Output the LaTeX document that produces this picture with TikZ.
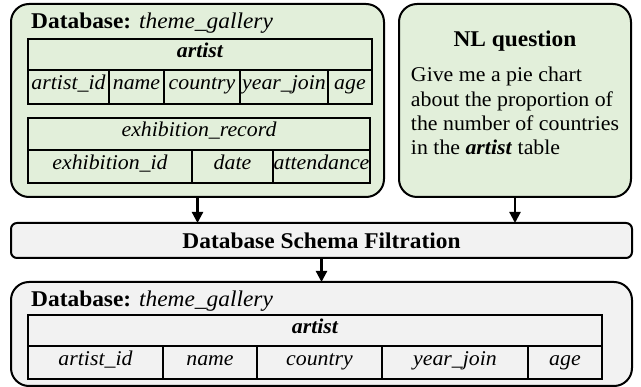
\documentclass[tikz,border=0pt]{standalone}
\usepackage{fontspec}
\setmainfont{Liberation Serif}[FakeStretch=1.04]
\usepackage{tikz}
\usetikzlibrary{positioning,arrows.meta}
\definecolor{boxgreen}{HTML}{E2EFDA}
\definecolor{boxgray}{HTML}{F2F2F2}

\begin{document}
\begin{tikzpicture}[x=1pt,y=-1pt,
  dbbox/.style={draw, line width=2pt, rounded corners=18pt, anchor=north west, inner sep=0pt, outer sep=0pt},
  cell/.style={draw, line width=2.8pt, anchor=north west, inner sep=0pt, outer sep=0pt, text height=0.74em, text depth=0.16em, font=\fontsize{21}{24}\selectfont\itshape},
  head/.style={cell, font=\fontsize{21}{24}\selectfont\bfseries\itshape},
  title/.style={anchor=base west, inner sep=0pt, font=\fontsize{22.5}{26}\selectfont},
  arr/.style={line width=2.2pt, -{Triangle[length=11pt,width=11pt]}}]
\useasboundingbox (0,0) rectangle (641,387);
\node[dbbox, fill=boxgreen, minimum width=373pt, minimum height=193pt] (dbA) at (11,4) {};
\node[dbbox, fill=boxgreen, minimum width=232pt, minimum height=193pt] (nlq) at (399,4) {};
\node[dbbox, fill=boxgray, rounded corners=6pt, minimum width=621pt, minimum height=35pt] (filt) at (11,223) {};
\node[dbbox, fill=boxgray, minimum width=621pt, minimum height=104pt] (dbB) at (11,282) {};

\node[title] (dbAname) at (31,29) {\textbf{Database:} \textit{theme\_gallery}};
\node[head, minimum width=344pt, minimum height=31pt] (artA) at (28,39) {artist};
\node[cell, minimum width=81pt, minimum height=34pt] (artAid) at (28,70) {artist\_id};
\node[cell, minimum width=55pt, minimum height=34pt] (artAname) at (109,70) {name};
\node[cell, minimum width=76pt, minimum height=34pt] (artAcountry) at (164,70) {country};
\node[cell, minimum width=88pt, minimum height=34pt] (artAyear) at (240,70) {year\_join};
\node[cell, minimum width=44pt, minimum height=34pt] (artAage) at (328,70) {age};
\node[cell, minimum width=342pt, minimum height=32pt] (exh) at (28,118) {exhibition\_record};
\node[cell, minimum width=164pt, minimum height=33pt] (exhid) at (28,150) {exhibition\_id};
\node[cell, minimum width=81pt, minimum height=33pt] (exhdate) at (192,150) {date};
\node[cell, minimum width=97pt, minimum height=33pt] (exhatt) at (273,150) {attendance};

\node[anchor=base, inner sep=0pt, font=\fontsize{22.5}{26}\selectfont\bfseries] (nlname) at (515,47) {NL question};
\node[anchor=north, align=left, inner sep=0pt, font=\fontsize{21}{24.3}\selectfont] (nltext) at (515,67) {Give me a pie chart\\about the proportion of\\the number of countries\\in the \textbf{\textit{artist}} table};

\node[font=\fontsize{22.5}{26}\selectfont\bfseries] (filtname) at (filt.center) {Database Schema Filtration};

\node[title] (dbBname) at (31,307) {\textbf{Database:} \textit{theme\_gallery}};
\node[head, minimum width=574pt, minimum height=31pt] (artB) at (28,315) {artist};
\node[cell, minimum width=135pt, minimum height=33pt] (artBid) at (28,346) {artist\_id};
\node[cell, minimum width=94pt, minimum height=33pt] (artBname) at (163,346) {name};
\node[cell, minimum width=125pt, minimum height=33pt] (artBcountry) at (257,346) {country};
\node[cell, minimum width=146pt, minimum height=33pt] (artByear) at (382,346) {year\_join};
\node[cell, minimum width=74pt, minimum height=33pt] (artBage) at (528,346) {age};

\draw[arr] (dbA.south) -- (dbA.south |- filt.north);
\draw[arr] (nlq.south) -- (nlq.south |- filt.north);
\draw[arr] (filt.south) -- (dbB.north);
\end{tikzpicture}
\end{document}
